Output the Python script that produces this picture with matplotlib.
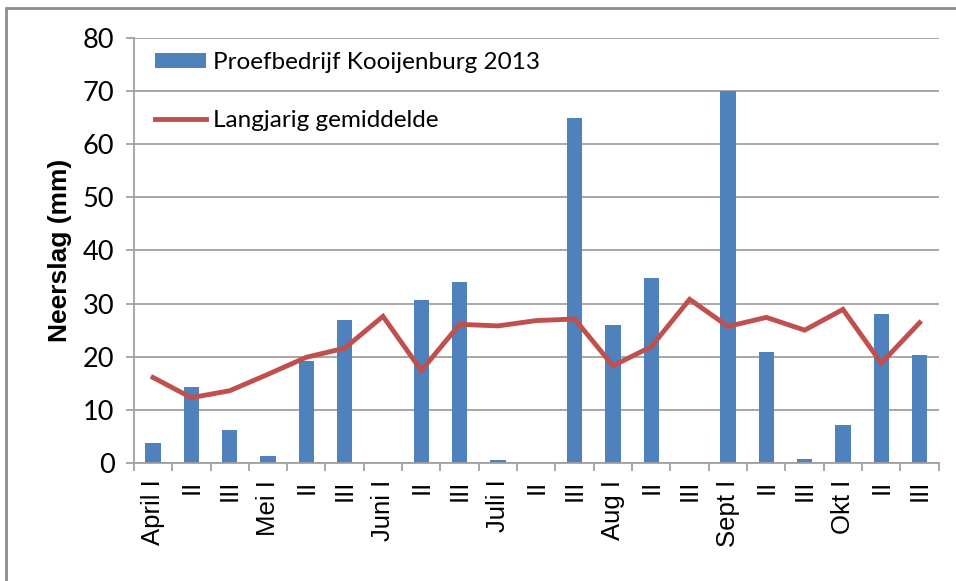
import numpy as np
import matplotlib
matplotlib.use("Agg")
import matplotlib.pyplot as plt
from matplotlib.patches import Rectangle

# decaden april - oktober
labels = ["April I", "II", "III", "Mei I", "II", "III", "Juni I", "II", "III",
          "Juli I", "II", "III", "Aug I", "II", "III", "Sept I", "II", "III",
          "Okt I", "II", "III"]
kooijenburg = [3.7, 14.4, 6.3, 1.3, 19.2, 26.9, 0, 30.6, 34.1,
               0.5, 0, 64.9, 26.0, 34.8, 0, 70.0, 20.8, 0.8,
               7.1, 28.1, 20.4]
langjarig = [16.1, 12.3, 13.6, 16.7, 19.9, 21.6, 27.6, 17.4, 26.1,
             25.8, 26.8, 27.1, 18.3, 21.9, 30.8, 25.7, 27.4, 25.0,
             28.9, 18.8, 26.4]

blauw = "#4F81BD"
rood = "#C0504D"
grijs = "#A0A0A0"

fig = plt.figure(figsize=(9.56, 5.81), dpi=100)
# kader om de grafiek
fig.patches.append(Rectangle((6/956, -0.1), 1.1, 1 - 8/581 + 0.1, transform=fig.transFigure,
                             fill=False, edgecolor="#8C8C8C", linewidth=2))

ax = fig.add_axes([0.140, 0.203, 0.842, 0.732])
x = np.arange(len(labels))
staaf = ax.bar(x, kooijenburg, width=0.4, color=blauw, label="Proefbedrijf Kooijenburg 2013", zorder=2)
lijn, = ax.plot(x, langjarig, color=rood, linewidth=3.5, label="Langjarig gemiddelde", zorder=3,
                solid_joinstyle="miter")

ax.set_xlim(-0.5, len(labels) - 0.5)
ax.set_ylim(0, 80)
ax.set_yticks(np.arange(0, 81, 10))
ax.yaxis.grid(True, color=grijs, linewidth=1.3, zorder=0)
ax.set_axisbelow(True)

for s in ["top", "right"]:
    ax.spines[s].set_visible(False)
for s in ["left", "bottom"]:
    ax.spines[s].set_color(grijs)
    ax.spines[s].set_linewidth(1.3)

ax.set_xticks(x)
ax.set_xticklabels(labels, rotation=90, family="Liberation Sans", fontsize=18.5)
ax.set_xticks(np.arange(-0.5, len(labels), 1), minor=True)
ax.tick_params(axis="x", which="major", length=0, pad=12)
ax.tick_params(axis="x", which="minor", length=6, color=grijs, width=1.3)
ax.tick_params(axis="y", length=6, color=grijs, width=1.3, pad=8, labelsize=19.5)
for t in ax.get_yticklabels():
    t.set_family("Lato")

ax.set_ylabel("Neerslag (mm)", family="Liberation Sans", fontweight="bold", fontsize=19, labelpad=8)

leg = ax.legend([staaf, lijn], ["Proefbedrijf Kooijenburg 2013", "Langjarig gemiddelde"],
                loc="upper left", frameon=False, prop={"family": "Lato", "size": 17.5},
                bbox_to_anchor=(0.026, 0.967), borderpad=0, borderaxespad=0,
                handlelength=2.1, handleheight=0.6, handletextpad=0.3, labelspacing=1.55)

fig.savefig("out.png", dpi=100)
